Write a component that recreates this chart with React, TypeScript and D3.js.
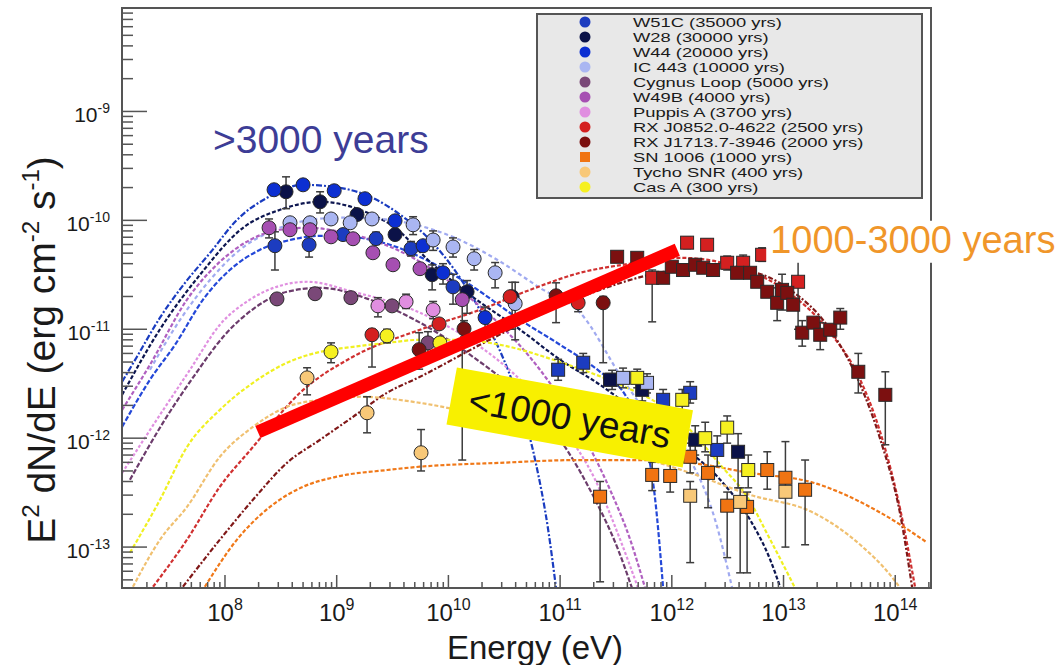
import React from "react";
import * as d3 from "d3";

const W = 1063, H = 665;
const xDomain = [1.197e7, 2.09e14];
const yDomain = [4.21e-14, 8.91e-9];
const xMajor = [1e8, 1e9, 1e10, 1e11, 1e12, 1e13, 1e14];
const xMajorExp = ["8", "9", "10", "11", "12", "13", "14"];
const yMajor = [1e-13, 1e-12, 1e-11, 1e-10, 1e-9];
const yMajorExp = ["-13", "-12", "-11", "-10", "-9"];

const legendLabels = [
  "W51C (35000 yrs)", "W28 (30000 yrs)", "W44 (20000 yrs)", "IC 443 (10000 yrs)",
  "Cygnus Loop (5000 yrs)", "W49B (4000 yrs)", "Puppis A (3700 yrs)",
  "RX J0852.0-4622 (2500 yrs)", "RX J1713.7-3946 (2000 yrs)", "SN 1006 (1000 yrs)",
  "Tycho SNR (400 yrs)", "Cas A (300 yrs)",
];
const markerColors = ["#1c3cc0", "#0b1248", "#0c2fd2", "#aab6f2", "#7a4878", "#a64fb2", "#e08ee0", "#d42020", "#7c1010", "#f07412", "#f8c878", "#f6f020"];
const curveColors = ["#2448d8", "#0d1650", "#1a3cc0", "#a0aaf0", "#6c3c6c", "#b060c0", "#e090e0", "#d03030", "#801818", "#f07818", "#f0c070", "#f0f020"];

// [E (eV), E2dN/dE, low, high]
const w51cGeV = [[2.8e8, 5.85e-11, 3.5e-11, 7.85e-11], [5.66e8, 5.97e-11, 4.6e-11, 7.4e-11], [1.14e9, 7.4e-11], [2.25e9, 6.8e-11, 6.0e-11, 7.8e-11], [4.63e9, 5.5e-11, 4.7e-11, 6.4e-11], [1.1e10, 2.45e-11, 1.7e-11, 3.2e-11]];
const w51cTeV = [[9.6e10, 4.25e-12, 3.4e-12, 5.3e-12], [1.61e11, 4.93e-12, 4.0e-12, 6.0e-12], [2.92e11, 3.44e-12, 2.8e-12, 4.2e-12], [8.36e11, 2.25e-12, 1.8e-12, 2.8e-12], [1.46e12, 2.61e-12, 2.1e-12, 3.3e-12], [2.55e12, 7.8e-13, 5.5e-13, 1.05e-12]];
const w28GeV = [[3.52e8, 1.83e-10, 1.28e-10, 2.51e-10], [7.1e8, 1.48e-10, 1.17e-10, 1.83e-10], [1.52e9, 1.13e-10], [3.33e9, 7.4e-11], [7.15e9, 3.17e-11, 2.3e-11, 3.9e-11], [1.47e10, 2.21e-11, 1.4e-11, 2.8e-11], [3.72e10, 1.99e-11, 1.0e-11, 2.7e-11]];
const w28TeV = [[2.8e11, 3.44e-12], [5.43e11, 2.78e-12, 2.2e-12, 3.4e-12], [1.62e12, 9.67e-13, 7.0e-13, 1.3e-12], [3.92e12, 7.5e-13, 3.5e-13, 1.1e-12]];
const w44GeV = [[2.75e8, 1.91e-10], [5.0e8, 2.12e-10], [9.5e8, 1.87e-10], [1.79e9, 1.58e-10], [3.33e9, 9.9e-11], [5.93e9, 5.85e-11], [8.95e9, 3.3e-11, 2.6e-11, 4.0e-11], [2.13e10, 1.28e-11, 1.0e-11, 1.6e-11]];
const ic443GeV = [[3.82e8, 9.5e-11], [5.77e8, 9.5e-11], [8.9e8, 1.03e-10], [1.32e9, 9.5e-11], [2.07e9, 1.03e-10], [4.83e9, 9.1e-11, 7.4e-11, 1.08e-10], [7.3e9, 6.6e-11, 5.3e-11, 8.0e-11], [1.1e10, 5.7e-11, 4.6e-11, 6.9e-11], [1.7e10, 4.44e-11, 3.5e-11, 5.4e-11], [2.62e10, 3.3e-11, 2.4e-11, 4.1e-11], [3.96e10, 1.72e-11, 8e-12, 2.7e-11]];
const ic443TeV = [[3.66e11, 3.58e-12, 2.9e-12, 4.4e-12], [6.0e11, 3.22e-12, 2.6e-12, 3.9e-12]];
const cygnusGeV = [[2.92e8, 1.9e-11], [6.4e8, 2.12e-11], [1.34e9, 1.95e-11], [3.13e9, 1.64e-11], [6.56e9, 7.5e-12, 5.5e-12, 9.5e-12]];
const w49bGeV = [[2.48e8, 8.55e-11, 6.9e-11, 1.03e-10], [3.82e8, 8.2e-11], [5.77e8, 8.2e-11], [8.9e8, 7.06e-11], [1.4e9, 6.78e-11], [2.11e9, 5.04e-11], [3.19e9, 3.91e-11], [5.57e9, 3.6e-11], [1.33e10, 1.87e-11, 6.3e-13, 2.3e-11]];
const puppisGeV = [[2.34e9, 1.64e-11, 1.3e-11, 1.95e-11], [4.18e9, 1.79e-11, 1.55e-11, 2.1e-11], [7.3e9, 1.51e-11, 1.25e-11, 1.8e-11]];
const rxj0852GeV = [[2.07e9, 8.9e-12, 4.5e-12, 1.0e-11], [8.25e9, 1.12e-11], [3.57e10, 1.99e-11], [1.45e11, 1.75e-11, 1.45e-11, 2.05e-11]];
const rxj0852TeV = [[6.67e11, 2.97e-11, 1.17e-11, 3.5e-11], [1.37e12, 6.24e-11, 5.5e-11, 7.0e-11], [2.07e12, 5.97e-11, 5.3e-11, 6.7e-11], [3.13e12, 4.08e-11, 3.5e-11, 4.7e-11], [4.35e12, 4.08e-11, 3.5e-11, 4.8e-11], [6.43e12, 4.83e-11, 4.2e-11, 5.6e-11], [1.35e13, 2.73e-11, 1.0e-11, 5.0e-11]];
const rxj1713GeV = [[5.47e9, 6.5e-12, 4.3e-12, 9.3e-12], [1.38e10, 1.01e-11, 8.5e-12, 1.2e-11], [9.2e10, 2.03e-11, 1.15e-11, 2.67e-11], [2.43e11, 1.75e-11, 4.93e-12, 2.0e-11]];
const rxj1713TeV = [[3.24e11, 4.63e-11], [4.9e11, 4.53e-11], [8.36e11, 2.97e-11], [1.0e12, 3.75e-11], [1.26e12, 3.5e-11], [1.62e12, 3.91e-11], [1.91e12, 3.67e-11], [2.34e12, 3.5e-11], [3.84e12, 3.3e-11], [5.02e12, 3.3e-11], [5.81e12, 2.73e-11], [7.15e12, 2.21e-11], [8.77e12, 1.75e-11, 1.2e-11, 2.4e-11], [9.7e12, 2.3e-11, 1.5e-11, 3.2e-11], [1.08e13, 2.16e-11], [1.22e13, 1.68e-11], [1.47e13, 9.3e-12, 7.0e-12, 1.2e-11], [1.85e13, 1.15e-11], [2.13e13, 8.9e-12, 6.5e-12, 1.15e-11], [2.62e13, 9.9e-12], [3.22e13, 1.28e-11, 1.0e-11, 1.55e-11], [4.67e13, 4.07e-12, 2.6e-12, 6.0e-12], [8.15e13, 2.5e-12, 8.7e-13, 4.07e-12]];
const sn1006TeV = [[2.28e11, 2.9e-13, 4.8e-14, 4.0e-13], [6.67e11, 4.6e-13, 3.3e-13, 6.0e-13], [9.67e11, 4.5e-13, 3.2e-13, 6.0e-13], [1.46e12, 6.75e-13, 4.8e-13, 9.0e-13], [2.11e12, 4.8e-13, 2.3e-13, 7.0e-13], [3.13e12, 2.4e-13, 8e-14, 3.2e-13], [4.72e12, 2.34e-13, 5.8e-14, 3.2e-13], [7.15e12, 5.1e-13, 3.4e-13, 7.5e-13], [1.04e13, 4.33e-13, 1.0e-13, 9.3e-13], [1.56e13, 3.36e-13, 1.05e-13, 6.3e-13]];
const tychoGeV = [[5.43e8, 3.58e-12, 2.5e-12, 4.43e-12], [1.87e9, 1.71e-12, 1.12e-12, 2.4e-12], [5.69e9, 7.35e-13, 5.0e-13, 1.2e-12]];
const tychoTeV = [[1.46e12, 2.96e-13, 7.2e-14, 4.0e-13], [4.09e12, 2.6e-13, 5.8e-14, 3.5e-13], [1.04e13, 3.22e-13]];
const casaGeV = [[8.9e8, 6.2e-12, 4.93e-12, 7.5e-12], [2.82e9, 8.7e-12, 7.5e-12, 1.0e-11], [8.4e9, 7.5e-12]];
const casaTeV = [[4.9e11, 3.58e-12, 2.9e-12, 4.3e-12], [1.24e12, 2.25e-12, 1.8e-12, 2.8e-12], [1.99e12, 1.0e-12, 7.5e-13, 1.4e-12], [3.13e12, 1.25e-12, 9e-13, 1.6e-12], [4.83e12, 5.1e-13, 3.5e-13, 7e-13]];

// model curves [E, E2dN/dE]
const w51cCurve = [[1.2e7, 1.27e-12], [2.13e7, 3.44e-12], [3.57e7, 7.2e-12], [6.36e7, 1.87e-11], [1.11e8, 3.52e-11], [2.06e8, 5.37e-11], [3.82e8, 6.6e-11], [7.1e8, 7.2e-11], [1.32e9, 7.06e-11], [3.0e9, 5.97e-11], [6.85e9, 4.16e-11], [1.56e10, 2.56e-11], [4.39e10, 1.22e-11], [1.0e11, 7.2e-12], [2.28e11, 4.07e-12], [3.82e11, 2.5e-12], [5.77e11, 9.67e-13], [7.1e11, 2.72e-13], [8.36e11, 4.2e-14]];
const w28Curve = [[1.2e7, 2.5e-12], [2.62e7, 1.0e-11], [5.98e7, 3.17e-11], [1.45e8, 8.55e-11], [3.11e8, 1.25e-10], [7.1e8, 1.48e-10], [1.62e9, 1.25e-10], [3.33e9, 8.55e-11], [6.85e9, 4.16e-11], [1.56e10, 2.07e-11], [4.39e10, 9.9e-12], [1.0e11, 5.25e-12], [2.28e11, 3.09e-12], [5.21e11, 1.64e-12], [1.19e12, 8.7e-13], [2.71e12, 4.15e-13], [5.02e12, 1.78e-13], [7.6e12, 7.65e-14], [9.4e12, 4.2e-14]];
const w44Curve = [[1.2e7, 3.3e-12], [1.63e7, 5.6e-12], [2.62e7, 1.28e-11], [4.39e7, 2.67e-11], [7.37e7, 5.04e-11], [1.28e8, 1.01e-10], [2.38e8, 1.61e-10], [5.0e8, 2.12e-10], [1.07e9, 1.99e-10], [1.99e9, 1.65e-10], [3.69e9, 1.13e-10], [6.85e9, 6.6e-11], [1.27e10, 2.97e-11], [2.36e10, 9.9e-12], [3.96e10, 2.78e-12], [5.98e10, 6.3e-13], [7.82e10, 1.44e-13], [9.2e10, 4.2e-14]];
const ic443Curve = [[2.13e7, 4.25e-12], [3.96e7, 1.22e-11], [7.37e7, 2.85e-11], [1.36e8, 5.37e-11], [2.53e8, 7.85e-11], [4.7e8, 9.7e-11], [1.07e9, 1.06e-10], [2.44e9, 1.03e-10], [5.57e9, 8.9e-11], [1.27e10, 6.6e-11], [2.73e10, 4.35e-11], [6.6e10, 2.4e-11], [1.51e11, 1.42e-11], [3.66e11, 3.44e-12], [7.87e11, 1.19e-12], [1.46e12, 6.3e-13], [2.44e12, 1.78e-13], [3.47e12, 4.2e-14]];
const cygnusCurve = [[1.41e7, 4.15e-13], [2.9e7, 1.48e-12], [5.38e7, 3.82e-12], [1.0e8, 8.9e-12], [1.86e8, 1.58e-11], [3.59e8, 2.21e-11], [7.1e8, 2.4e-11], [1.99e9, 1.87e-11], [5.57e9, 1.15e-11], [1.56e10, 5.84e-12], [4.39e10, 2.5e-12], [1.0e11, 9.67e-13], [2.06e11, 2.72e-13], [3.31e11, 9.45e-14], [4.4e11, 4.2e-14]];
const w49bCurve = [[1.2e7, 1.82e-12], [2.13e7, 4.72e-12], [4.57e7, 1.87e-11], [9.0e7, 4.16e-11], [1.67e8, 6.6e-11], [3.11e8, 8.2e-11], [5.77e8, 8.55e-11], [1.07e9, 7.85e-11], [2.44e9, 6.24e-11], [5.57e9, 4.16e-11], [1.27e10, 2.3e-11], [2.9e10, 1.1e-11], [6.6e10, 4.25e-12], [1.51e11, 1.19e-12], [2.8e11, 3.36e-13], [4.24e11, 1.17e-13], [5.77e11, 4.2e-14]];
const puppisCurve = [[1.2e7, 4.8e-13], [2.62e7, 1.64e-12], [4.86e7, 4.25e-12], [9.0e7, 1.1e-11], [1.67e8, 1.87e-11], [3.11e8, 2.51e-11], [5.43e8, 2.73e-11], [1.4e9, 2.21e-11], [5.57e9, 1.42e-11], [1.56e10, 8.0e-12], [4.39e10, 3.44e-12], [1.0e11, 1.33e-12], [2.06e11, 4.15e-13], [3.45e11, 1.17e-13], [4.99e11, 4.2e-14]];
const rxj0852Curve = [[2.27e7, 4.32e-14], [4.57e7, 1.17e-13], [9.0e7, 3.58e-13], [1.78e8, 8.3e-13], [4.7e8, 2.61e-12], [1.4e9, 5.6e-12], [5.57e9, 9.9e-12], [1.92e10, 1.51e-11], [5.38e10, 2.3e-11], [1.51e11, 3.3e-11], [4.24e11, 4.0e-11], [1.19e12, 4.53e-11], [3.33e12, 3.91e-11], [9.35e12, 2.45e-11], [2.62e13, 9.3e-12], [4.86e13, 3.44e-12], [7.37e13, 1.12e-12], [1.11e14, 2.2e-13], [1.51e14, 4.2e-14]];
const rxj1713Curve = [[4.2e7, 4.32e-14], [9.0e7, 1.17e-13], [1.78e8, 2.72e-13], [3.59e8, 5.94e-13], [7.1e8, 9.67e-13], [1.4e9, 1.57e-12], [2.82e9, 2.61e-12], [5.57e9, 3.66e-12], [1.92e10, 7.2e-12], [6.6e10, 1.36e-11], [2.28e11, 2.3e-11], [6.4e11, 3.17e-11], [1.79e12, 3.67e-11], [5.02e12, 3.38e-11], [1.15e13, 2.3e-11], [2.62e13, 9.9e-12], [4.86e13, 3.09e-12], [7.37e13, 9.67e-13], [1.11e14, 1.98e-13], [1.42e14, 4.2e-14]];
const sn1006Curve = [[6.6e7, 4.32e-14], [1.28e8, 1.17e-13], [2.53e8, 2.34e-13], [5.0e8, 3.58e-13], [1.0e9, 4.43e-13], [2.82e9, 5.1e-13], [5.57e9, 5.47e-13], [2.9e10, 5.94e-13], [1.51e11, 6.3e-13], [6.4e11, 6.3e-13], [1.46e12, 5.94e-13], [5.02e12, 4.8e-13], [1.85e13, 3.9e-13], [7.37e13, 2.07e-13], [1.93e14, 1.1e-13]];
const tychoCurve = [[1.5e7, 4.32e-14], [2.62e7, 1.17e-13], [4.57e7, 2.34e-13], [9.0e7, 6.75e-13], [1.78e8, 1.27e-12], [3.59e8, 1.94e-12], [7.1e8, 2.25e-12], [1.62e9, 2.4e-12], [5.57e9, 2.11e-12], [1.92e10, 1.64e-12], [6.6e10, 1.25e-12], [2.28e11, 8.7e-13], [6.4e11, 6.3e-13], [1.46e12, 4.8e-13], [5.02e12, 3.02e-13], [1.85e13, 2.07e-13], [4.86e13, 1.05e-13], [9.0e13, 5.56e-14], [1.11e14, 4.2e-14]];
const casaCurve = [[1.41e7, 8.87e-14], [2.62e7, 2.72e-13], [4.57e7, 8.3e-13], [9.0e7, 1.82e-12], [1.78e8, 3.22e-12], [3.59e8, 4.93e-12], [7.1e8, 6.2e-12], [1.4e9, 6.9e-12], [2.82e9, 7.5e-12], [5.57e9, 8.0e-12], [1.27e10, 8.0e-12], [2.9e10, 7.2e-12], [1.0e11, 5.0e-12], [3.45e11, 3.09e-12], [7.87e11, 2.02e-12], [1.46e12, 1.19e-12], [2.71e12, 5.7e-13], [4.72e12, 2.9e-13], [7.6e12, 1.17e-13], [1.27e13, 4.2e-14]];

// annotations (data coordinates)
const redBar = [[1.97e8, 1.14e-12], [1.12e12, 5.37e-11]];
const yellowBoxAt = [1.22e11, 1.55e-12];
const oldLabelAt = [7.8e7, 4.17e-10];
const midLabelAt = [7.6e12, 5.04e-11];

const series = [
  { gev: w51cGeV, tev: w51cTeV, curve: w51cCurve, dash: "5 2" },
  { gev: w28GeV, tev: w28TeV, curve: w28Curve, dash: "4 2" },
  { gev: w44GeV, tev: [], curve: w44Curve, dash: "6 2 2 2" },
  { gev: ic443GeV, tev: ic443TeV, curve: ic443Curve, dash: "4 3" },
  { gev: cygnusGeV, tev: [], curve: cygnusCurve, dash: "5 2" },
  { gev: w49bGeV, tev: [], curve: w49bCurve, dash: "4 2" },
  { gev: puppisGeV, tev: [], curve: puppisCurve, dash: "3 2" },
  { gev: rxj0852GeV, tev: rxj0852TeV, curve: rxj0852Curve, dash: "4 2" },
  { gev: rxj1713GeV, tev: rxj1713TeV, curve: rxj1713Curve, dash: "5 2 2 2" },
  { gev: [], tev: sn1006TeV, curve: sn1006Curve, dash: "4 2" },
  { gev: tychoGeV, tev: tychoTeV, curve: tychoCurve, dash: "4 2" },
  { gev: casaGeV, tev: casaTeV, curve: casaCurve, dash: "4 2" },
];

const FONT = "'Liberation Sans', Arial, Helvetica, sans-serif";

export default function App() {
  const x = d3.scaleLog().domain(xDomain).range([122, 931]);
  const y = d3.scaleLog().domain(yDomain).range([588, 8]);
  const line = d3.line<number[]>().x((d) => x(d[0])).y((d) => y(d[1])).curve(d3.curveMonotoneX);

  const xMinor = x.ticks().filter((t) => !xMajor.some((m) => Math.abs(m - t) / m < 1e-6));
  const yMinor = y.ticks().filter((t) => !yMajor.some((m) => Math.abs(m - t) / m < 1e-6));

  const errBar = (p: number[], key: string) => {
    if (p.length < 4) return null;
    const cx = x(p[0]);
    const y1 = y(p[3]);
    const y2 = y(p[2]);
    return (
      <g key={key} stroke="#3c3c3c" strokeWidth={1.5}>
        <line x1={cx} x2={cx} y1={y1} y2={y2} />
        <line x1={cx - 4} x2={cx + 4} y1={y1} y2={y1} />
        <line x1={cx - 4} x2={cx + 4} y1={y2} y2={y2} />
      </g>
    );
  };

  const [bx, by] = [x(yellowBoxAt[0]), y(yellowBoxAt[1])];

  return (
    <div style={{ position: "absolute", left: 0, top: 0 }}>
      <svg width={W} height={H} style={{ display: "block", background: "#fff" }} fontFamily={FONT}>
        <defs>
          <clipPath id="plot">
            <rect x={122} y={8} width={809} height={580} />
          </clipPath>
        </defs>
        {/* model curves */}
        <g clipPath="url(#plot)" fill="none">
          {series.map((s, i) => (
            <path key={i} d={line(s.curve) || ""} stroke={curveColors[i]} strokeWidth={2.2} strokeDasharray={s.dash} />
          ))}
        </g>
        {/* error bars */}
        <g clipPath="url(#plot)">
          {series.map((s, i) => (
            <g key={i}>
              {s.gev.map((p, j) => errBar(p, `g${j}`))}
              {s.tev.map((p, j) => errBar(p, `t${j}`))}
            </g>
          ))}
        </g>
        {/* markers */}
        <g clipPath="url(#plot)" stroke="#2a2a2a" strokeWidth={1}>
          {series.map((s, i) => (
            <g key={i} fill={markerColors[i]}>
              {s.gev.map((p, j) => (
                <circle key={j} cx={x(p[0])} cy={y(p[1])} r={7} />
              ))}
              {s.tev.map((p, j) => (
                <rect key={j} x={x(p[0]) - 6.5} y={y(p[1]) - 6.5} width={13} height={13} />
              ))}
            </g>
          ))}
        </g>
        {/* axes frame */}
        <rect x={122} y={8} width={809} height={580} fill="none" stroke="#555" strokeWidth={2} />
        <g stroke="#555" strokeWidth={1.5}>
          {xMajor.map((t, i) => (
            <line key={i} x1={x(t)} x2={x(t)} y1={588} y2={575} />
          ))}
          {xMinor.map((t, i) => (
            <line key={i} x1={x(t)} x2={x(t)} y1={588} y2={582} />
          ))}
          {yMajor.map((t, i) => (
            <line key={i} x1={122} x2={147} y1={y(t)} y2={y(t)} />
          ))}
          {yMinor.map((t, i) => (
            <line key={i} x1={122} x2={133} y1={y(t)} y2={y(t)} />
          ))}
        </g>
        {/* tick labels */}
        <g fill="#1a1a1a">
          {xMajor.map((t, i) => (
            <text key={i} x={x(t)} y={621} fontSize={24} textAnchor="middle">
              10<tspan fontSize={16} dy={-11}>{xMajorExp[i]}</tspan>
            </text>
          ))}
          {yMajor.map((t, i) => (
            <text key={i} x={110} y={y(t) + 11} fontSize={21} textAnchor="end">
              10<tspan fontSize={14} dy={-9}>{yMajorExp[i]}</tspan>
            </text>
          ))}
        </g>
        {/* axis titles */}
        <text x={535} y={659} fontSize={33} textAnchor="middle" fill="#1a1a1a">Energy (eV)</text>
        <text transform="translate(55,350) rotate(-90)" fontSize={39} textAnchor="middle" fill="#1a1a1a">
          E<tspan fontSize={24} dy={-16}>2</tspan>
          <tspan dy={16}> dN/dE (erg cm</tspan>
          <tspan fontSize={24} dy={-16}>-2</tspan>
          <tspan dy={16}> s</tspan>
          <tspan fontSize={24} dy={-16}>-1</tspan>
          <tspan dy={16}>)</tspan>
        </text>
        {/* annotations */}
        <line x1={x(redBar[0][0])} y1={y(redBar[0][1])} x2={x(redBar[1][0])} y2={y(redBar[1][1])} stroke="#ff0000" strokeWidth={13} />
        <g transform={`translate(${bx},${by}) rotate(10.3)`}>
          <rect x={-120} y={-29} width={240} height={58} fill="#f8f000" />
          <text x={0} y={13} fontSize={37} textAnchor="middle" fill="#111">&lt;1000 years</text>
        </g>
        <text x={x(oldLabelAt[0])} y={y(oldLabelAt[1])} fontSize={39} fill="#3d3d96">&gt;3000 years</text>
        <rect x={x(midLabelAt[0]) - 4} y={y(midLabelAt[1]) - 32} width={300} height={42} fill="#fff" />
        <text x={x(midLabelAt[0])} y={y(midLabelAt[1])} fontSize={38} fill="#f0962a">1000-3000 years</text>
        {/* legend */}
        <rect x={537} y={14} width={385} height={184} fill="#e8e8e8" stroke="#555" strokeWidth={2} />
        {legendLabels.map((lab, i) => {
          const cy = 22 + i * 15;
          return (
            <g key={i}>
              {i === 9 ? (
                <rect x={580} y={cy - 5} width={10} height={10} fill={markerColors[i]} />
              ) : (
                <circle cx={585} cy={cy} r={5.5} fill={markerColors[i]} />
              )}
              <text transform={`translate(633,${cy + 5}) scale(1.38,1)`} x={0} y={0} fontSize={13.3} fill="#1a1a1a">{lab}</text>
            </g>
          );
        })}
      </svg>
    </div>
  );
}
